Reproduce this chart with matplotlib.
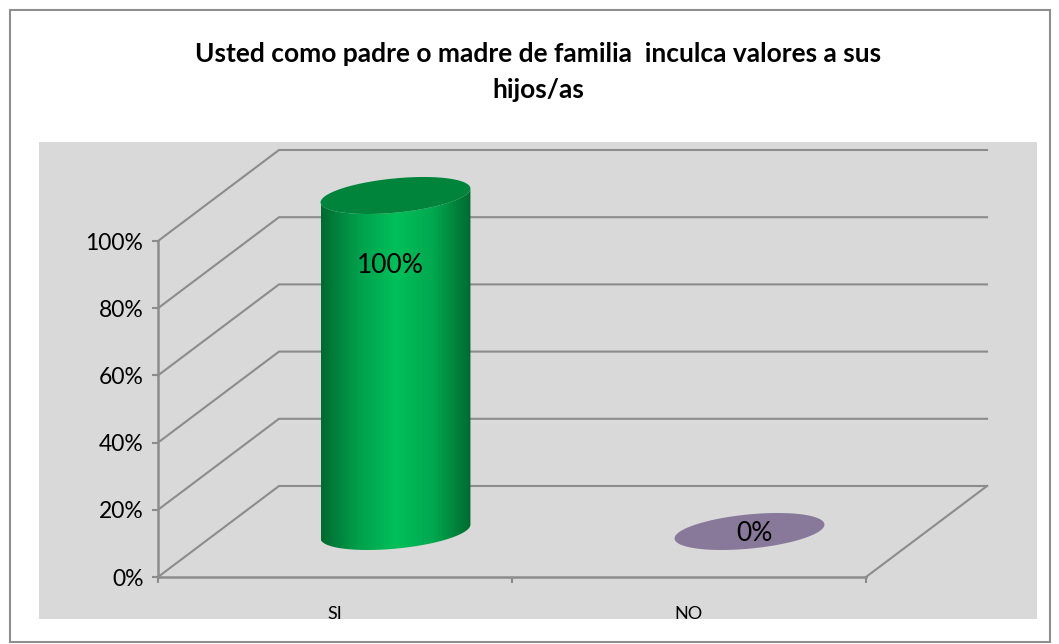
import numpy as np
from matplotlib import pyplot as plt
from matplotlib.colors import LinearSegmentedColormap
from matplotlib.patches import Polygon, Rectangle

categories = ['SI', 'NO']
values = [100, 0]
value_labels = ['100%', '0%']
y_ticks = [0, 20, 40, 60, 80, 100]
y_tick_labels = ['0%', '20%', '40%', '60%', '80%', '100%']
title = 'Usted como padre o madre de familia  inculca valores a sus\nhijos/as'

plt.rcParams['font.family'] = ['Lato', 'DejaVu Sans']

W, H = 1059, 644
PX_X = 354.0    # pixels per category
PX_Y = 3.36     # pixels per percent
X0, Y0 = 158, 577
DEPTH_X = 121 / PX_X
DEPTH_Y = 91 / PX_Y
LINE = '#8c8c8c'

fig = plt.figure(figsize=(W / 100, H / 100), dpi=100, facecolor='white')
ax = fig.add_axes([0, 0, 1, 1])
ax.set_xlim(-X0 / PX_X, (W - X0) / PX_X)
ax.set_ylim((Y0 - H) / PX_Y, Y0 / PX_Y)
ax.patch.set_visible(False)

# outer frame and grey plot area
fig.add_artist(Rectangle((10 / W, 1 - 642 / H), 1040 / W, 632 / H, transform=fig.transFigure,
                         fc='white', ec='#8e8e8e', lw=1.5, zorder=-2))
fig.add_artist(Rectangle((39 / W, 1 - 619 / H), 998 / W, 477 / H, transform=fig.transFigure,
                         fc='#d9d9d9', ec='none', zorder=-1))

fig.text(538 / W, 1 - 54 / H, title.split('\n')[0], ha='center', va='center',
         fontsize=19, fontweight='bold', color='black')
fig.text(538 / W, 1 - 90 / H, title.split('\n')[1], ha='center', va='center',
         fontsize=19, fontweight='bold', color='black')

# walls and floor
for v in y_ticks:
    ax.plot([0, DEPTH_X, 2 + DEPTH_X], [v, v + DEPTH_Y, v + DEPTH_Y], color=LINE, lw=1.5,
            solid_joinstyle='miter', zorder=1)
ax.plot([2, 2 + DEPTH_X], [0, DEPTH_Y], color=LINE, lw=1.5, zorder=1)

for side in ['top', 'right']:
    ax.spines[side].set_visible(False)
ax.spines['left'].set_position(('data', 0))
ax.spines['bottom'].set_position(('data', 0))
ax.spines['left'].set_bounds(0, 100)
ax.spines['bottom'].set_bounds(0, 2)
for side in ['left', 'bottom']:
    ax.spines[side].set_color(LINE)
    ax.spines[side].set_linewidth(1.8)
ax.set_yticks(y_ticks)
ax.set_yticklabels(y_tick_labels)
ax.set_xticks([0, 1, 2])
ax.set_xticklabels([])
ax.set_xticks([0.5, 1.5], minor=True)
ax.set_xticklabels(categories, minor=True)
ax.tick_params(axis='y', length=4.5, width=1.5, color=LINE, labelsize=16.5, pad=6)
ax.tick_params(axis='x', which='major', length=4.5, width=1.5, color=LINE)
ax.tick_params(axis='x', which='minor', length=0, labelsize=13, pad=21)

# cylinders
t = np.linspace(0, 2 * np.pi, 200)
RX, SKEW, RY = 69.5 / PX_X, 28 / PX_X, 18.5 / PX_Y
body_cmap = LinearSegmentedColormap.from_list(
    'body', ['#006a30', '#00a04c', '#00c05a', '#00a84f', '#006a30'])
top_colors = ['#00843c', '#88799a']


def ellipse(cx, cy, tt):
    return cx + RX * np.cos(tt) + SKEW * np.sin(tt), cy + RY * np.sin(tt)


for i, v in enumerate(values):
    cx = i + 0.5 + DEPTH_X / 2
    cy = DEPTH_Y / 2
    if v > 0:
        # visible side: top rim then the lower half of the base ellipse
        tl = np.arctan2(SKEW, RX) + np.pi
        tr = np.arctan2(SKEW, RX)
        lower = np.linspace(tl, tr + 2 * np.pi, 100)
        xb, yb = ellipse(cx, cy, lower)
        xt, yt = ellipse(cx, cy + v, lower[::-1])
        verts = np.column_stack([np.r_[xb, xt], np.r_[yb, yt]])
        clip = Polygon(verts, closed=True, transform=ax.transData, fc='none', ec='none')
        ax.add_patch(clip)
        half = np.hypot(RX, SKEW)
        im = ax.imshow(np.linspace(0, 1, 256).reshape(1, -1), cmap=body_cmap, aspect='auto',
                       extent=[cx - half, cx + half, cy - 20, cy + v + 20], zorder=3)
        im.set_clip_path(clip)
    xe, ye = ellipse(cx, cy + v, t)
    ax.fill(xe, ye, color=top_colors[i], lw=0, zorder=4)
ax.set_xlim(-X0 / PX_X, (W - X0) / PX_X)
ax.set_ylim((Y0 - H) / PX_Y, Y0 / PX_Y)

# data labels
label_x = [0.5 + DEPTH_X / 2 - 5 / PX_X, 1.5 + DEPTH_X / 2 + 5 / PX_X]
label_y = [v + DEPTH_Y / 2 - o for v, o in zip(values, [70 / PX_Y, 2 / PX_Y])]
for x, y, s in zip(label_x, label_y, value_labels):
    ax.text(x, y, s, ha='center', va='center', fontsize=19, color='black', zorder=5)

fig.savefig('out.png', dpi=100)
